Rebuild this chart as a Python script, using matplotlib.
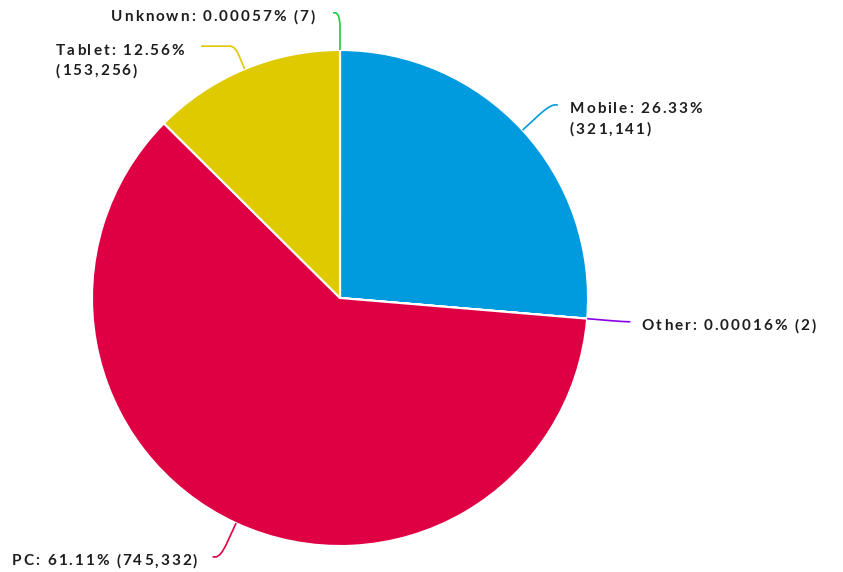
import numpy as np
import matplotlib.pyplot as plt
from matplotlib.path import Path
from matplotlib.patches import PathPatch
from matplotlib.font_manager import FontProperties
from matplotlib.transforms import offset_copy

plt.rcParams['font.family'] = ['Lato', 'DejaVu Sans']

# data
labels = ['Mobile', 'Other', 'PC', 'Tablet', 'Unknown']
counts = [321141, 2, 745332, 153256, 7]
colors = ['#009bde', '#8a00e6', '#df0043', '#dfca00', '#22cc3a']
two_line = ['Mobile', 'Tablet']

# label layout: elbow radius, tail length, side, gap to text (data units)
layout = {
    'Mobile': (1.15, 0.032, 1, 0.048),
    'Other': (1.15, 0.025, 1, 0.046),
    'PC': (1.15, 0.032, -1, 0.062),
    'Tablet': (1.10, 0.137, -1, 0.069),
    'Unknown': (1.15, 0.028, -1, 0.075),
}

W, H = 843, 572
cx, cy, R = 340, 298, 248
TRACK = 1.95     # extra letter spacing, px
LINE_H = 20.5    # px between baselines
BASE_DROP = 8.5  # baseline below connector tail, px

fig = plt.figure(figsize=(W / 100, H / 100), dpi=100)
ax = fig.add_axes([(cx - R) / W, (H - cy - R) / H, 2 * R / W, 2 * R / H])

ax.pie(counts, colors=colors, startangle=90, counterclock=False, radius=1,
       wedgeprops=dict(edgecolor='white', linewidth=1.5))
ax.set_xlim(-1, 1)
ax.set_ylim(-1, 1)
ax.set_aspect('equal')
ax.axis('off')

renderer = fig.canvas.get_renderer()
prop = FontProperties(family=['Lato', 'DejaVu Sans'], weight='bold', size=11)


def width(s):
    return renderer.get_text_width_height_descent(s, prop, ismath=False)[0]


def char_offsets(s):
    ref = width('|')
    xs = [0.0]
    for i in range(1, len(s)):
        xs.append(width(s[:i] + '|') - ref + i * TRACK)
    return xs, xs[-1] + width(s[-1])


def spaced_text(x, y, lines, side):
    lays = [char_offsets(s) for s in lines]
    block_w = max(l[1] for l in lays)
    x0 = 0 if side > 0 else -block_w
    for j, (s, (xs, _)) in enumerate(zip(lines, lays)):
        for ch, dx in zip(s, xs):
            if ch == ' ':
                continue
            tr = offset_copy(ax.transData, fig=fig, x=x0 + dx, y=-j * LINE_H - BASE_DROP,
                             units='dots')
            ax.text(x, y, ch, transform=tr, ha='left', va='baseline',
                    fontproperties=prop, color='#1e1e1e')


total = sum(counts)
start = 90.0
for lab, c, col in zip(labels, counts, colors):
    frac = c / total
    mid = np.radians(start - 360 * frac / 2)
    start -= 360 * frac
    pct = frac * 100
    ptxt = f'{pct:.2f}%' if pct >= 1 else f'{pct:.5f}%'
    if lab in two_line:
        lines = [f'{lab}: {ptxt}', f'({c:,})']
    else:
        lines = [f'{lab}: {ptxt} ({c:,})']

    r_el, tail, side, gap = layout[lab]
    p0 = np.array([np.cos(mid), np.sin(mid)])
    el = p0 * r_el
    a = p0 + (el - p0) * 0.6
    b = el + np.array([side * min(0.02, tail), 0])
    end = el + np.array([side * tail, 0])
    path = Path([p0, a, el, b, end],
                [Path.MOVETO, Path.LINETO, Path.CURVE3, Path.CURVE3, Path.LINETO])
    ax.add_patch(PathPatch(path, facecolor='none', edgecolor=col, lw=1.2, clip_on=False))

    spaced_text(end[0] + side * gap, end[1], lines, side)

fig.savefig('out.png', dpi=100)
